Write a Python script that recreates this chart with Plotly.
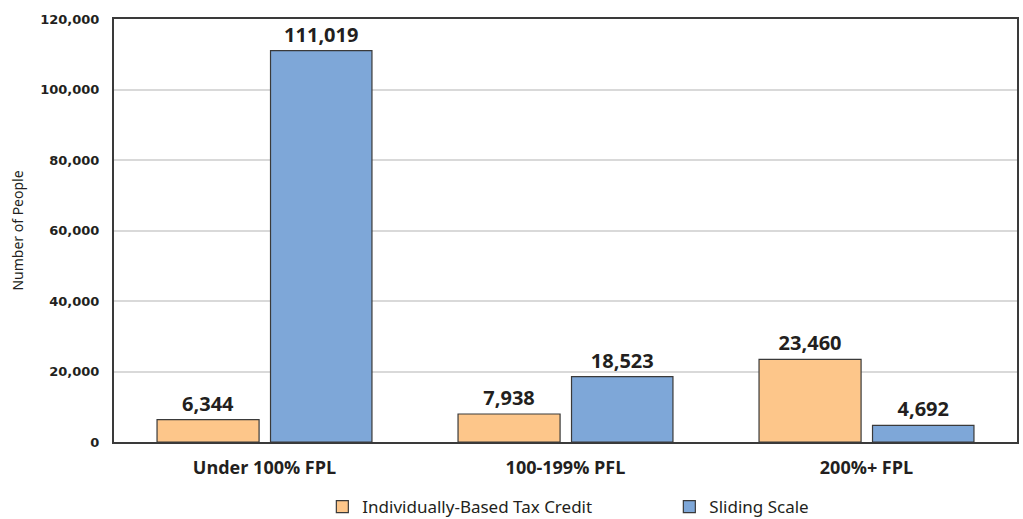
import plotly.graph_objects as go

categories = ["Under 100% FPL", "100-199% PFL", "200%+ FPL"]
tax_credit = [6344, 7938, 23460]
sliding = [111019, 18523, 4692]
y_ticks = [0, 20000, 40000, 60000, 80000, 100000, 120000]
y_tick_text = ["0", "20,000", "40,000", "60,000", "80,000", "100,000", "120,000"]

label_font = dict(family="Open Sans", size=20, color="#231f20")

fig = go.Figure()
fig.add_trace(go.Bar(
    x=categories, y=tax_credit, name="Individually-Based Tax Credit",
    marker=dict(color="#fdc68a", line=dict(color="#3a3a3a", width=1.2)),
    width=0.339, offset=-0.357,
    text=[f"{v:,}" for v in tax_credit], textposition="outside",
    textfont=label_font, cliponaxis=False,
))
fig.add_trace(go.Bar(
    x=categories, y=sliding, name="Sliding Scale",
    marker=dict(color="#7ea7d8", line=dict(color="#3a3a3a", width=1.2)),
    width=0.337, offset=0.02,
    text=[f"{v:,}" for v in sliding], textposition="outside",
    textfont=label_font, cliponaxis=False,
))

fig.update_layout(
    width=1023, height=519,
    margin=dict(l=114, r=6, t=19, b=77, autoexpand=False),
    paper_bgcolor="white", plot_bgcolor="white",
    barmode="group",
    showlegend=True,
    legend=dict(orientation="h", x=0.615, xanchor="center",
                yref="container", y=12 / 519, yanchor="middle",
                font=dict(family="Noto Sans", size=17, color="#231f20"),
                entrywidth=302, itemwidth=30, traceorder="normal"),
    xaxis=dict(
        showline=True, linecolor="#3a3a3a", linewidth=2, mirror=True,
        tickfont=dict(family="Open Sans", size=18, color="#231f20", weight="bold"),
        ticks="", range=[-0.5, 2.5], ticklabelstandoff=8,
    ),
    yaxis=dict(
        range=[0, 120000], tickvals=y_ticks, ticktext=y_tick_text,
        showline=True, linecolor="#3a3a3a", linewidth=2, mirror=True,
        showgrid=True, gridcolor="#d9d9d9", gridwidth=1.5,
        tickfont=dict(family="DejaVu Sans", size=13, color="#231f20", weight="bold"),
        ticks="", ticklabelstandoff=10,
        title=dict(text="Number of People", font=dict(family="Noto Sans", size=14, color="#231f20"), standoff=13),
        zeroline=False,
    ),
)
fig.update_traces(textfont_weight="bold")

fig.write_html("out.html")
